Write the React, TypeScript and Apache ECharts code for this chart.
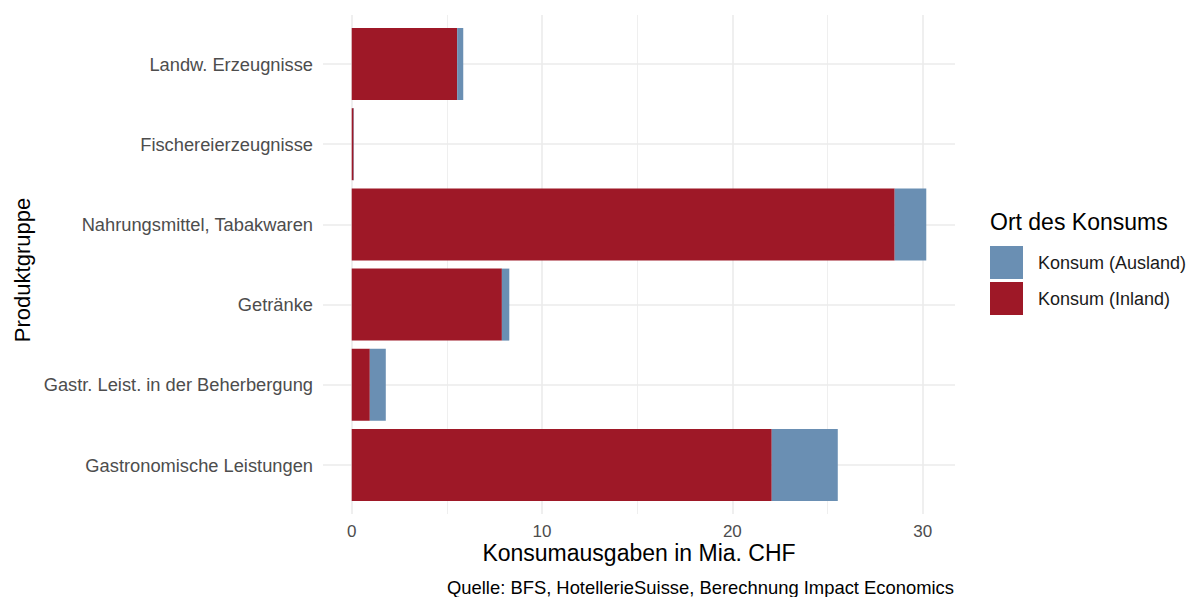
import React, { useEffect, useRef } from "react";
import * as echarts from "echarts";

const categories = [
  "Landw. Erzeugnisse",
  "Fischereierzeugnisse",
  "Nahrungsmittel, Tabakwaren",
  "Getränke",
  "Gastr. Leist. in der Beherbergung",
  "Gastronomische Leistungen",
];
const inland = [5.54, 0.1, 28.53, 7.89, 0.95, 22.07];
const ausland = [0.32, 0.02, 1.66, 0.39, 0.84, 3.47];
const xTickMin = 0;
const xTickMax = 30;
const xTickStep = 10;
const seriesNames = ["Konsum (Ausland)", "Konsum (Inland)"];

const FONT = "'Liberation Sans', Arial, Helvetica, sans-serif";
const RED = "#9E1827";
const BLUE = "#6A8FB3";
const GRID = "#EBEBEB";

export default function App() {
  const ref = useRef<HTMLDivElement>(null);
  useEffect(() => {
    if (!ref.current) return;
    const chart = echarts.init(ref.current, undefined, { renderer: "svg" });
    const totals = inland.map((v, i) => v + ausland[i]);
    const maxTotal = Math.max(...totals);
    const xMin = -maxTotal * 0.05;
    const xMax = maxTotal * 1.05;
    const panelLeft = 323;
    const panelRight = 955;
    const pxPerUnit = (panelRight - panelLeft) / (xMax - xMin);
    const tickLeft = panelLeft + (xTickMin - xMin) * pxPerUnit;
    const tickRight = panelLeft + (xTickMax - xMin) * pxPerUnit;
    chart.setOption({
      animation: false,
      backgroundColor: "#ffffff",
      textStyle: { fontFamily: FONT },
      grid: [
        { left: tickLeft, right: 1190 - tickRight, top: 15, bottom: 597 - 514 },
        { left: panelLeft, right: 1190 - panelRight, top: 64, bottom: 597 - 465 },
      ],
      xAxis: [
        {
          type: "value",
          gridIndex: 0,
          min: xTickMin,
          max: xTickMax,
          interval: xTickStep,
          axisLine: { show: false },
          axisTick: { show: false },
          axisLabel: {
            show: true,
            margin: 9,
            fontSize: 17,
            color: "#4D4D4D",
            fontFamily: FONT,
          },
          splitLine: { show: true, lineStyle: { color: GRID, width: 1.6 } },
          minorTick: { show: false, splitNumber: 2 },
          minorSplitLine: { show: true, lineStyle: { color: GRID, width: 0.8 } },
        },
        {
          type: "value",
          gridIndex: 1,
          min: xMin,
          max: xMax,
          show: false,
          splitLine: { show: false },
        },
      ],
      yAxis: [
        { type: "value", gridIndex: 0, show: false, splitLine: { show: false } },
        {
          type: "category",
          gridIndex: 1,
          data: categories,
          inverse: true,
          boundaryGap: false,
          axisLine: { show: false },
          axisTick: { show: false },
          axisLabel: { margin: 10, fontSize: 18.3, color: "#4D4D4D", fontFamily: FONT },
          splitLine: { show: true, lineStyle: { color: GRID, width: 1.6 } },
        },
      ],
      legend: {
        orient: "vertical",
        left: 990,
        top: 246,
        itemWidth: 33,
        itemHeight: 33,
        itemGap: 3,
        padding: 0,
        icon: "rect",
        data: seriesNames,
        textStyle: { fontSize: 18, color: "#1A1A1A", fontFamily: FONT, padding: [0, 0, 0, 10] },
      },
      series: [
        {
          name: "Konsum (Inland)",
          type: "bar",
          stack: "total",
          xAxisIndex: 1,
          yAxisIndex: 1,
          barWidth: 72,
          itemStyle: { color: RED },
          data: inland,
        },
        {
          name: "Konsum (Ausland)",
          type: "bar",
          stack: "total",
          xAxisIndex: 1,
          yAxisIndex: 1,
          barWidth: 72,
          itemStyle: { color: BLUE },
          data: ausland,
        },
      ],
      graphic: [
        {
          type: "text",
          x: 639,
          y: 553,
          style: {
            text: "Konsumausgaben in Mia. CHF",
            fontSize: 23,
            fill: "#000",
            fontFamily: FONT,
            align: "center",
            verticalAlign: "middle",
          },
        },
        {
          type: "text",
          x: 22,
          y: 270,
          rotation: Math.PI / 2,
          style: {
            text: "Produktgruppe",
            fontSize: 22,
            fill: "#000",
            fontFamily: FONT,
            align: "center",
            verticalAlign: "middle",
          },
        },
        {
          type: "text",
          x: 954,
          y: 587,
          style: {
            text: "Quelle: BFS, HotellerieSuisse, Berechnung Impact Economics",
            fontSize: 18.4,
            fill: "#000",
            fontFamily: FONT,
            align: "right",
            verticalAlign: "middle",
          },
        },
        {
          type: "text",
          x: 990,
          y: 222,
          style: {
            text: "Ort des Konsums",
            fontSize: 23,
            fill: "#000",
            fontFamily: FONT,
            align: "left",
            verticalAlign: "middle",
          },
        },
      ],
    });
    return () => chart.dispose();
  }, []);
  return <div ref={ref} style={{ width: 1190, height: 597, position: "absolute", left: 0, top: 0 }} />;
}
